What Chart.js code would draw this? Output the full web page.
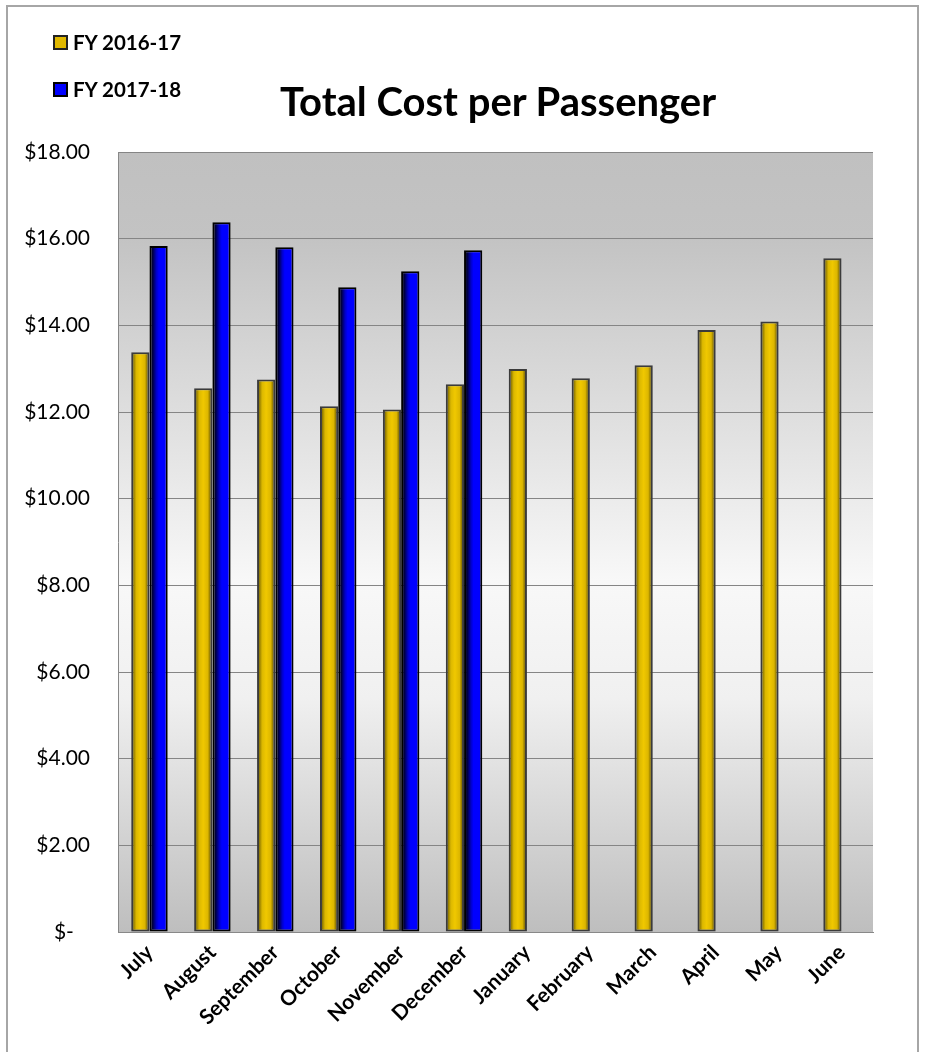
<!DOCTYPE html>
<html>
<head>
<meta charset="utf-8">
<script src="https://cdn.jsdelivr.net/npm/chart.js@4.4.1/dist/chart.umd.min.js"></script>
<style>
  html, body { margin: 0; padding: 0; background: #fff; }
  #wrap { position: relative; width: 926px; height: 1052px; overflow: hidden; font-family: Lato, "Open Sans", sans-serif; }
  #frame { position: absolute; left: 6px; top: 5px; width: 913px; height: 1100px; border: 2px solid #a6a6a6; box-sizing: border-box; }
  #chart { position: absolute; left: 0; top: 0; }
  .leg { position: absolute; left: 53px; font-weight: bold; font-size: 20.5px; color: #000; display: flex; align-items: center; }
  .leg i { display: inline-block; width: 11px; height: 11px; margin-right: 5px; border: 2px solid #222; }
  #title { position: absolute; left: 118px; width: 760px; top: 77px; text-align: center; font-weight: bold; font-size: 40px; color: #000; }
</style>
</head>
<body>
<div id="wrap">
  <div id="frame"></div>
  <canvas id="chart" width="926" height="1052"></canvas>
  <div class="leg" style="top:30px"><i style="background:#e0b800"></i>FY 2016-17</div>
  <div class="leg" style="top:77px"><i style="background:#0000ff;border-color:#000"></i>FY 2017-18</div>
  <div id="title">Total Cost per Passenger</div>
</div>
<script>
const months = ['July', 'August', 'September', 'October', 'November', 'December',
  'January', 'February', 'March', 'April', 'May', 'June'];
const fy1617 = [13.38, 12.55, 12.75, 12.13, 12.06, 12.64, 12.99, 12.78, 13.08, 13.89, 14.09, 15.55];
const fy1718 = [15.83, 16.38, 15.80, 14.88, 15.25, 15.73, null, null, null, null, null, null];
const yTicks = [0, 2, 4, 6, 8, 10, 12, 14, 16, 18];

const CAT_PCT = 0.58;

// horizontal shading so the bars look like rounded columns
function barFill(stops, flat) {
  return function (ctx) {
    const chart = ctx.chart;
    const xs = chart.scales.x;
    if (ctx.type !== 'data' || !xs || !xs.width) return flat;
    const cw = xs.width / months.length;
    const bw = cw * CAT_PCT / 2;
    const left = xs.getPixelForValue(ctx.dataIndex) - cw * CAT_PCT / 2 + ctx.datasetIndex * bw;
    const g = chart.ctx.createLinearGradient(left, 0, left + bw, 0);
    stops.forEach(s => g.addColorStop(s[0], s[1]));
    return g;
  };
}

const goldStops = [[0, '#3a3620'], [0.12, '#8a7400'], [0.28, '#dcb800'], [0.5, '#f0c800'], [0.75, '#dcb600'], [0.9, '#7a6600'], [1, '#333020']];
const blueStops = [[0, '#000010'], [0.18, '#000040'], [0.38, '#0000c8'], [0.52, '#0000ff'], [1, '#0000ff']];

const plotBg = {
  id: 'plotBg',
  beforeDraw(chart) {
    const a = chart.chartArea;
    const c = chart.ctx;
    const g = c.createLinearGradient(0, a.top, 0, a.bottom);
    g.addColorStop(0, '#c0c0c0');
    g.addColorStop(0.11, '#c3c3c3');
    g.addColorStop(0.3, '#dadada');
    g.addColorStop(0.55, '#f8f8f8');
    g.addColorStop(0.7, '#f0f0f0');
    g.addColorStop(1, '#bebebe');
    c.save();
    c.fillStyle = g;
    c.fillRect(a.left, a.top, a.right - a.left, a.bottom - a.top);
    c.restore();
  }
};

Chart.defaults.font.family = 'Lato, "Open Sans", sans-serif';
Chart.defaults.color = '#000';

new Chart(document.getElementById('chart').getContext('2d'), {
  type: 'bar',
  data: {
    labels: months,
    datasets: [{
      label: 'FY 2016-17',
      data: fy1617,
      backgroundColor: barFill(goldStops, '#e0b800'),
      borderColor: '#3b3b3b',
      borderWidth: 2,
      borderSkipped: false
    }, {
      label: 'FY 2017-18',
      data: fy1718,
      backgroundColor: barFill(blueStops, '#0000ff'),
      borderColor: '#000',
      borderWidth: 2,
      borderSkipped: false
    }]
  },
  options: {
    responsive: false,
    animation: false,
    layout: { padding: { left: 0, top: 152, right: 53, bottom: 0 } },
    datasets: { bar: { categoryPercentage: CAT_PCT, barPercentage: 1 } },
    plugins: {
      legend: { display: false },
      title: { display: false },
      tooltip: { enabled: false }
    },
    scales: {
      x: {
        afterFit(scale) { scale.height = 120; },
        grid: { display: false, drawTicks: false },
        border: { color: '#888', width: 1 },
        ticks: {
          minRotation: 45, maxRotation: 45, padding: 8,
          font: { size: 21, weight: 'bold' }
        }
      },
      y: {
        min: 0, max: 18,
        afterFit(scale) { scale.width = 118; },
        afterBuildTicks(scale) { scale.ticks = yTicks.map(v => ({ value: v })); },
        grid: { color: '#858585', lineWidth: 1, drawTicks: false },
        border: { color: '#888', width: 1 },
        ticks: {
          padding: 28,
          font: { size: 21 },
          callback: v => v === 0 ? '$-   ' : '$' + v.toFixed(2)
        }
      }
    }
  },
  plugins: [plotBg]
});
</script>
</body>
</html>
